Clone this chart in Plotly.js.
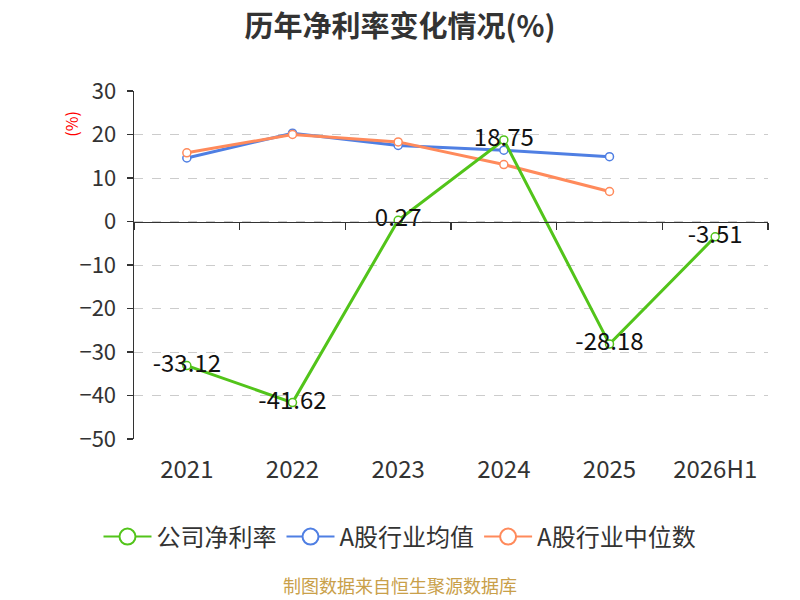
<!DOCTYPE html>
<html>
<head>
<meta charset="utf-8">
<script src="https://cdn.plot.ly/plotly-3.0.1.min.js"></script>
<style>
  html, body { margin: 0; padding: 0; background: #fff; }
  #plot { width: 800px; height: 600px; }
</style>
</head>
<body>
<div id="plot"></div>
<script>
// data
var years = ["2021", "2022", "2023", "2024", "2025", "2026H1"];
var companyNet = [-33.12, -41.62, 0.27, 18.75, -28.18, -3.51];
var industryAvg = [14.6, 20.3, 17.5, 16.4, 14.9];
var industryMedian = [15.8, 20.0, 18.3, 13.1, 6.9];
var yTicks = [30, 20, 10, 0, -10, -20, -30, -40, -50];

var seriesNames = ['公司净利率', 'A股行业均值', 'A股行业中位数'];
var seriesColors = ['#52C41A', '#4F7FE3', '#FF8A5B'];

var font = "'Noto Sans CJK SC', 'Noto Sans', sans-serif";

function lineTrace(xs, ys, i) {
  return {
    x: xs,
    y: ys,
    mode: 'lines+markers',
    name: seriesNames[i],
    type: 'scatter',
    showlegend: false,
    line: { color: seriesColors[i], width: 3 },
    marker: { symbol: 'circle', size: 8, color: '#fff', line: { color: seriesColors[i], width: 1.5 } }
  };
}

// legend-only entries so the legend circles can be bigger than the point markers
function legendTrace(i) {
  return {
    x: [years[0]],
    y: [null],
    mode: 'lines+markers',
    name: seriesNames[i],
    type: 'scatter',
    legendrank: i + 1,
    hoverinfo: 'skip',
    line: { color: seriesColors[i], width: 2 },
    marker: { symbol: 'circle', size: 16, color: '#fff', line: { color: seriesColors[i], width: 2 } }
  };
}

var avg = lineTrace(years.slice(0, industryAvg.length), industryAvg, 1);
var median = lineTrace(years.slice(0, industryMedian.length), industryMedian, 2);
var company = lineTrace(years, companyNet, 0);

// value labels on the company line
var labels = {
  x: years,
  y: companyNet,
  mode: 'text',
  text: companyNet.map(function (v) { return v.toFixed(2); }),
  textposition: 'middle center',
  textfont: { size: 24, color: '#111', family: font },
  showlegend: false,
  hoverinfo: 'skip',
  type: 'scatter'
};

// empty trace on a second x axis that draws the tick marks along the zero line
var zeroTicks = {
  x: [],
  y: [],
  xaxis: 'x2',
  mode: 'lines',
  showlegend: false,
  hoverinfo: 'skip',
  type: 'scatter'
};

var data = [avg, median, company, labels, zeroTicks,
            legendTrace(0), legendTrace(1), legendTrace(2)];

var layout = {
  width: 800,
  height: 600,
  margin: { l: 134, r: 32, t: 91, b: 161 },
  paper_bgcolor: '#fff',
  plot_bgcolor: '#fff',
  font: { family: font, color: '#333' },
  title: {
    text: '<b>历年净利率变化情况(%)</b>',
    x: 0.5, xref: 'container', xanchor: 'center',
    y: 0.955, yref: 'container', yanchor: 'middle',
    font: { size: 29, color: '#333', family: font }
  },
  xaxis: {
    type: 'category',
    range: [-0.5, 5.5],
    showline: false,
    showgrid: false,
    zeroline: false,
    ticks: 'outside',
    ticklen: 9,
    tickcolor: 'rgba(0,0,0,0)',
    tickfont: { size: 24, color: '#333' },
    fixedrange: true
  },
  xaxis2: {
    overlaying: 'x',
    anchor: 'free',
    position: 0.625,
    side: 'bottom',
    range: [-0.5, 5.5],
    tickvals: [-0.5, 0.5, 1.5, 2.5, 3.5, 4.5, 5.5],
    showticklabels: false,
    ticks: 'outside',
    ticklen: 7,
    tickwidth: 1.5,
    tickcolor: '#333',
    showline: true,
    linecolor: '#333',
    linewidth: 1.5,
    showgrid: false,
    zeroline: false
  },
  yaxis: {
    range: [-50, 30],
    tickvals: yTicks,
    showline: true,
    linecolor: '#333',
    linewidth: 1.5,
    ticks: 'outside',
    ticklen: 6,
    tickwidth: 1.5,
    tickcolor: '#333',
    ticklabelstandoff: 6,
    tickfont: { size: 22, color: '#333' },
    showgrid: true,
    gridcolor: '#ccc',
    griddash: 'dash',
    gridwidth: 1,
    zeroline: false
  },
  legend: {
    orientation: 'h',
    x: 0.5, xanchor: 'center', xref: 'container',
    y: 0.105, yanchor: 'middle', yref: 'container',
    font: { size: 24, color: '#333' },
    itemwidth: 48,
    traceorder: 'normal'
  },
  annotations: [
    {
      text: '(%)',
      xref: 'paper', yref: 'paper',
      x: -0.1, y: 0.905,
      xanchor: 'center', yanchor: 'middle',
      textangle: -90,
      showarrow: false,
      font: { size: 16, color: '#f00' }
    },
    {
      text: '制图数据来自恒生聚源数据库',
      xref: 'paper', yref: 'paper',
      x: 0.42, xanchor: 'center',
      y: -0.42, yanchor: 'middle',
      showarrow: false,
      font: { size: 18, color: '#C9A04A' }
    }
  ]
};

Plotly.newPlot('plot', data, layout, { displayModeBar: false, staticPlot: true });
</script>
</body>
</html>
